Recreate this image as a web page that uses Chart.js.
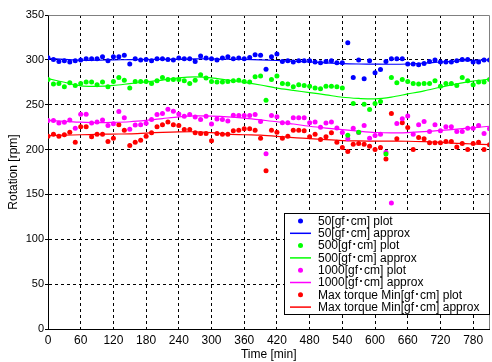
<!DOCTYPE html>
<html>
<head>
<meta charset="utf-8">
<script src="https://cdn.jsdelivr.net/npm/chart.js@4.4.1/dist/chart.umd.min.js"></script>
<style>
    html, body { margin: 0; padding: 0; background: #fff; }
    #wrap { width: 492px; height: 362px; }
</style>
</head>
<body>
<div id="wrap"><canvas id="rotation-chart" width="492" height="362"></canvas></div>
<script>
    "use strict";

    // Data
    var times = [0, 10, 20, 30, 40, 50, 60, 70, 80, 90, 100, 110, 120, 130, 140, 150, 160, 170, 180, 190,
        200, 210, 220, 230, 240, 250, 260, 270, 280, 290, 300, 310, 320, 330, 340, 350, 360, 370, 380, 390,
        400, 410, 420, 430, 440, 450, 460, 470, 480, 490, 500, 510, 520, 530, 540, 550, 560, 570, 580, 590,
        600, 610, 620, 630, 640, 650, 660, 670, 680, 690, 700, 710, 720, 730, 740, 750, 760, 770, 780, 790,
        800, 810];

    var plot50 = [302.4, 300.5, 298.3, 299.0, 297.5, 299.0, 299.8, 301.2, 301.2, 301.2, 303.5, 299.0, 303.5, 303.5,
        305.0, 295.3, 301.2, 299.8, 300.5, 299.0, 301.2, 301.2, 300.5, 299.8, 302.0, 301.2, 301.2, 298.3, 304.2,
        302.0, 301.2, 299.8, 302.0, 303.5, 301.2, 302.0, 301.2, 302.7, 305.7, 305.0, 289.5,
        303.5, 306.4, 298.3, 299.0, 297.5, 299.0, 299.0, 299.0, 297.5, 296.8, 298.3, 299.0, 296.8, 296.8, 319.1,
        280.4, 299.8, 278.9, 299.0, 285.6, 289.3, 298.3, 301.2, 301.2, 301.2, 295.3, 295.3, 294.5, 296.0, 298.3,
        299.8, 297.5, 297.5, 297.5, 299.0, 300.5, 300.5, 297.5, 297.5, 299.8, 299.8];

    var plot500 = [278.2, 273.0, 273.7, 270.0, 274.4, 271.5, 273.7, 275.2, 275.2, 272.2, 275.2, 270.0, 275.9, 280.4,
        277.4, 268.5, 275.9, 275.9, 275.9, 273.7, 276.7, 280.4, 278.2, 278.2, 278.2, 276.7, 273.7, 277.4, 283.4,
        279.7, 275.9, 275.2, 275.2, 275.9, 276.7, 277.4, 275.9, 275.2, 281.1, 281.9, 255.1,
        278.2, 281.9, 273.7, 273.0, 270.0, 272.2, 271.5, 270.7, 268.5, 267.8, 270.7, 270.7, 270.0, 268.5, 216.0,
        251.4, 219.4, 250.6, 244.7, 251.4, 253.6, 195.0, 280.4, 274.4, 278.2, 275.9, 273.7, 273.0, 273.7, 273.7,
        276.7, 270.7, 273.7, 273.7, 271.5, 280.4, 276.7, 272.2, 275.2, 275.2, 278.2];

    var plot1000 = [232.3, 232.3, 229.6, 230.4, 233.0, 223.7, 239.3, 239.3, 229.6, 230.7, 233.0, 226.7, 228.9, 242.3,
        235.6, 222.6, 227.4, 227.8, 229.2, 233.4, 239.0, 240.1, 244.9, 242.7, 239.7, 237.1, 239.0, 236.4, 233.4,
        237.1, 228.5, 234.1, 233.4, 231.9, 238.2, 237.9, 237.9, 237.9, 239.0, 231.2, 195.4,
        237.9, 236.7, 230.0, 230.0, 235.6, 235.6, 235.6, 230.0, 230.8, 224.8, 229.6, 230.8, 224.1, 218.9, 212.0,
        223.7, 218.9, 226.7, 212.7, 215.6, 217.2, 197.0, 140.4, 229.1, 234.3, 237.3, 217.2, 227.6, 231.3, 220.2,
        227.6, 220.9, 225.4, 225.4, 220.2, 220.2, 223.9, 223.9, 226.9, 217.9, 223.1];

    var plotMax = [214.9, 217.2, 214.9, 216.4, 219.4, 208.3, 225.4, 225.4, 214.2, 217.2, 217.2, 209.0, 212.7, 227.6,
        221.6, 204.5, 208.3, 210.5, 214.9, 218.7, 225.4, 227.6, 230.6, 227.6, 226.9, 222.4, 222.4, 218.7, 217.9,
        217.9, 209.7, 217.9, 217.2, 217.2, 220.9, 221.6, 223.1, 223.1, 221.6, 212.7, 176.3,
        221.6, 219.4, 212.7, 214.9, 221.6, 221.6, 220.9, 214.2, 217.2, 211.2, 214.2, 218.7, 208.3, 202.3, 197.8,
        206.0, 206.8, 206.0, 203.8, 200.1, 202.3, 189.6, 240.3, 212.0, 229.8, 224.6, 200.1, 213.5, 212.0, 207.5,
        207.5, 207.5, 209.0, 209.0, 203.0, 206.8, 200.1, 206.8, 208.3, 200.1, 205.3];

    // Approximation curves (every 30 min)
    var approxTimes = [0, 30, 60, 90, 120, 150, 180, 210, 240, 270, 300, 330, 360, 390, 420, 450, 480, 510,
        540, 570, 600, 630, 660, 690, 720, 750, 780, 810];
    var approx50 = [301.5, 300.5, 299.6, 299.6, 300.0, 300.2, 300.4, 300.6, 300.8, 301.0, 301.0, 300.8, 300.5,
        300.0, 299.3, 298.5, 297.6, 296.6, 295.8, 295.4, 295.2, 295.1, 295.4, 296.4, 297.6, 298.6, 299.4, 300.0];
    var approx500 = [279.0, 275.0, 271.0, 270.5, 271.5, 273.5, 275.5, 277.5, 280.0, 281.0, 280.0, 277.5, 275.0,
        272.0, 268.5, 266.0, 263.5, 261.0, 258.3, 257.0, 256.5, 258.5, 262.0, 265.5, 269.5, 273.3, 276.3, 278.5];
    var approx1000 = [232.5, 231.5, 230.5, 230.0, 230.3, 231.0, 232.5, 234.5, 236.5, 237.5, 237.3, 236.5, 235.0,
        233.0, 231.0, 228.5, 226.0, 224.0, 222.3, 220.5, 219.0, 218.5, 219.0, 220.0, 221.3, 222.8, 224.3, 226.0];
    var approxMax = [215.5, 216.0, 216.5, 217.0, 217.3, 217.6, 218.4, 219.2, 219.7, 219.8, 218.8, 217.3, 216.5,
        216.0, 214.8, 213.3, 212.3, 211.0, 210.0, 209.6, 209.4, 209.4, 209.3, 208.8, 208.0, 207.0, 206.2, 205.5];

    var xTicks = [0, 60, 120, 180, 240, 300, 360, 420, 480, 540, 600, 660, 720, 780];
    var yTicks = [0, 50, 100, 150, 200, 250, 300, 350];

    var seriesNames = ["50[gf\uFF65cm]", "500[gf\uFF65cm]", "1000[gf\uFF65cm]", "Max torque Min[gf\uFF65cm]"];
    var seriesColors = ["#0000ff", "#00ff00", "#ff00ff", "#ff0000"];

    var FONT = "'Liberation Sans', Arial, 'Noto Sans CJK JP', sans-serif";

    function pairs(xs, ys) {
        return xs.map(function (x, i) { return { x: x, y: ys[i] }; });
    }

    var plots = [plot50, plot500, plot1000, plotMax];
    var approxes = [approx50, approx500, approx1000, approxMax];
    var datasets = [];
    for (var i = 0; i < 4; i++) {
        datasets.push({
            label: seriesNames[i] + " plot",
            data: pairs(times, plots[i]),
            showLine: false,
            pointRadius: 2.5,
            pointHoverRadius: 2.5,
            pointBorderWidth: 0,
            backgroundColor: seriesColors[i],
            borderColor: seriesColors[i]
        });
        datasets.push({
            label: seriesNames[i] + " approx",
            data: pairs(approxTimes, approxes[i]),
            showLine: true,
            pointRadius: 0,
            borderWidth: 1.2,
            borderColor: seriesColors[i],
            backgroundColor: seriesColors[i],
            tension: 0.3
        });
    }

    // Plot frame + boxed legend
    var frameLegend = {
        id: "frameLegend",
        afterDatasetsDraw: function (chart) {
            var a = chart.chartArea, ctx = chart.ctx;
            ctx.save();
            ctx.strokeStyle = "#808080";
            ctx.lineWidth = 1;
            ctx.beginPath();
            ctx.moveTo(Math.round(a.left) + 0.5, Math.round(a.top) + 0.5);
            ctx.lineTo(Math.round(a.right) - 0.5, Math.round(a.top) + 0.5);
            ctx.lineTo(Math.round(a.right) - 0.5, Math.round(a.bottom));
            ctx.stroke();
            ctx.restore();
        },
        afterDraw: function (chart) {
            var ctx = chart.ctx;
            var bx = 284.5, by = 213.5, bw = 205, bh = 101;
            ctx.save();
            ctx.fillStyle = "#fff";
            ctx.fillRect(bx, by, bw, bh);
            ctx.strokeStyle = "#000";
            ctx.lineWidth = 1;
            ctx.strokeRect(bx, by, bw, bh);
            ctx.font = "12px " + FONT;
            ctx.textBaseline = "middle";
            ctx.textAlign = "left";
            chart.data.datasets.forEach(function (ds, k) {
                var cy = 221 + k * 12.3;
                var col = seriesColors[Math.floor(k / 2)];
                if (ds.showLine) {
                    ctx.strokeStyle = col;
                    ctx.lineWidth = 1.5;
                    ctx.beginPath();
                    ctx.moveTo(290, cy);
                    ctx.lineTo(311, cy);
                    ctx.stroke();
                } else {
                    ctx.fillStyle = col;
                    ctx.beginPath();
                    ctx.arc(300.5, cy, 2.5, 0, Math.PI * 2);
                    ctx.fill();
                }
                ctx.fillStyle = "#000";
                ctx.fillText(ds.label, 318, cy + 0.5);
            });
            ctx.restore();
        }
    };

    var ctx1 = document.getElementById("rotation-chart").getContext("2d");
    var rotationChart = new Chart(ctx1, {
        type: "scatter",
        data: { datasets: datasets },
        options: {
            responsive: false,
            animation: false,
            events: [],
            layout: { padding: { top: 15, right: 2, left: 0, bottom: 0 } },
            plugins: { legend: { display: false }, tooltip: { enabled: false } },
            scales: {
                x: {
                    type: "linear",
                    min: 0,
                    max: 810,
                    afterBuildTicks: function (s) { s.ticks = xTicks.map(function (v) { return { value: v }; }); },
                    afterFit: function (s) { s.height = 33; },
                    grid: {
                        color: function (c) { return c.tick && c.tick.value === 0 ? "rgba(0,0,0,0)" : "#000"; },
                        lineWidth: 1,
                        drawTicks: false
                    },
                    border: { display: true, color: "#000", width: 1, dash: [3, 3] },
                    ticks: {
                        color: "#000",
                        padding: 4,
                        maxRotation: 0,
                        autoSkip: false,
                        font: { family: FONT, size: 12 }
                    },
                    title: {
                        display: true,
                        text: "Time [min]",
                        color: "#000",
                        padding: { top: 0, bottom: 0 },
                        font: { family: FONT, size: 12 }
                    }
                },
                y: {
                    type: "linear",
                    min: 0,
                    max: 350,
                    afterBuildTicks: function (s) { s.ticks = yTicks.map(function (v) { return { value: v }; }); },
                    afterFit: function (s) { s.width = 48; },
                    grid: {
                        color: function (c) {
                            if (!c.tick || c.tick.value === 0 || c.tick.value === 350) return "rgba(0,0,0,0)";
                            return "#000";
                        },
                        tickColor: "#000",
                        tickLength: 3,
                        lineWidth: 1
                    },
                    border: { display: true, color: "#000", width: 1, dash: [3, 3] },
                    ticks: {
                        color: "#000",
                        padding: 1,
                        font: { family: FONT, size: 11 }
                    },
                    title: {
                        display: true,
                        text: "Rotation [rpm]",
                        color: "#000",
                        padding: { top: 6, bottom: 0 },
                        font: { family: FONT, size: 12 }
                    }
                }
            }
        },
        plugins: [frameLegend]
    });
</script>
</body>
</html>
